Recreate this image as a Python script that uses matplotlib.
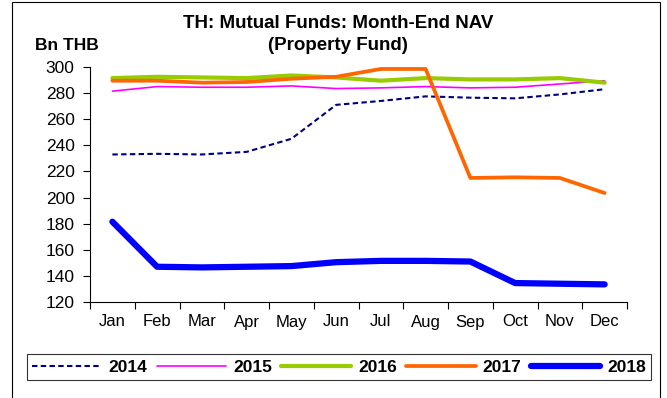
import matplotlib
matplotlib.use("Agg")
import matplotlib.pyplot as plt
from matplotlib.patches import Rectangle

plt.rcParams['font.family'] = ['Liberation Sans', 'DejaVu Sans']

months = ["Jan", "Feb", "Mar", "Apr", "May", "Jun", "Jul", "Aug", "Sep", "Oct", "Nov", "Dec"]
nav_2014 = [233, 233.5, 233, 235, 245, 271, 274, 277.5, 276.5, 276, 279, 283]
nav_2015 = [281.5, 285, 284.5, 284.5, 285.5, 283.5, 284, 285, 284, 284.5, 287, 289.5]
nav_2016 = [291.5, 292.5, 292, 291.5, 293.5, 292, 289.5, 291.5, 290.5, 290.5, 291.5, 288]
nav_2017 = [289.5, 289.5, 288, 288.5, 291, 292.5, 298.5, 298.5, 215, 215.5, 215, 203.5]
nav_2018 = [181.5, 147, 146.5, 147, 147.5, 150.5, 151.5, 151.5, 151, 134.5, 134, 133.5]
yticks = list(range(120, 301, 20))

W, H = 667, 398
fig = plt.figure(figsize=(W / 100, H / 100), dpi=100)
ax = fig.add_axes([90 / W, 1 - 302 / H, 537 / W, 235 / H])

x = range(len(months))
styles = [
    ("2014", nav_2014, dict(color="#000080", lw=1.5, dashes=(2.6, 1.6))),
    ("2015", nav_2015, dict(color="#FF00FF", lw=1.2)),
    ("2016", nav_2016, dict(color="#99CC00", lw=3.0)),
    ("2017", nav_2017, dict(color="#FF6600", lw=2.7)),
    ("2018", nav_2018, dict(color="#0000FF", lw=4.5)),
]
for label, vals, kw in styles:
    ax.plot(x, vals, label=label, solid_capstyle="round", **kw)

ax.set_xlim(-0.5, len(months) - 0.5)
ax.set_ylim(120, 300)
ax.set_yticks(yticks)
ax.set_xticks(x)
ax.set_xticklabels(months)
ax.set_xticks([i - 0.5 for i in range(len(months) + 1)], minor=True)
ax.tick_params(axis="x", which="major", length=0, labelsize=12, pad=9)
ax.tick_params(axis="x", which="minor", length=5, width=0.8, direction="out")
ax.tick_params(axis="y", length=5, width=0.8, labelsize=12.5, pad=6)
for s in ("top", "right"):
    ax.spines[s].set_visible(False)
for s in ("left", "bottom"):
    ax.spines[s].set_linewidth(0.8)

fig.text(338 / W, 1 - 24 / H, "TH: Mutual Funds: Month-End NAV", ha="center", va="center",
         fontsize=13.5, fontweight="bold")
fig.text(338 / W, 1 - 45 / H, "(Property Fund)", ha="center", va="center",
         fontsize=13.5, fontweight="bold")
fig.text(35 / W, 1 - 45 / H, "Bn THB", ha="left", va="center", fontsize=12.5, fontweight="bold")

leg = fig.legend(loc="center", ncol=5, mode="expand",
                 bbox_to_anchor=(27 / W, 1 - 382 / H, 624 / W, 30 / H),
                 frameon=True, fancybox=False, handlelength=4.0, handletextpad=0.4,
                 columnspacing=0.8, borderaxespad=0, borderpad=0.3,
                 prop=dict(weight="bold", size=12.5))
leg.get_frame().set_edgecolor("black")
leg.get_frame().set_linewidth(0.8)

fig.patches.append(Rectangle((12 / W, -0.05), 648 / W, 1.05 - 2 / H, transform=fig.transFigure,
                             fill=False, edgecolor="black", lw=0.8))

fig.savefig("out.png", dpi=100)
